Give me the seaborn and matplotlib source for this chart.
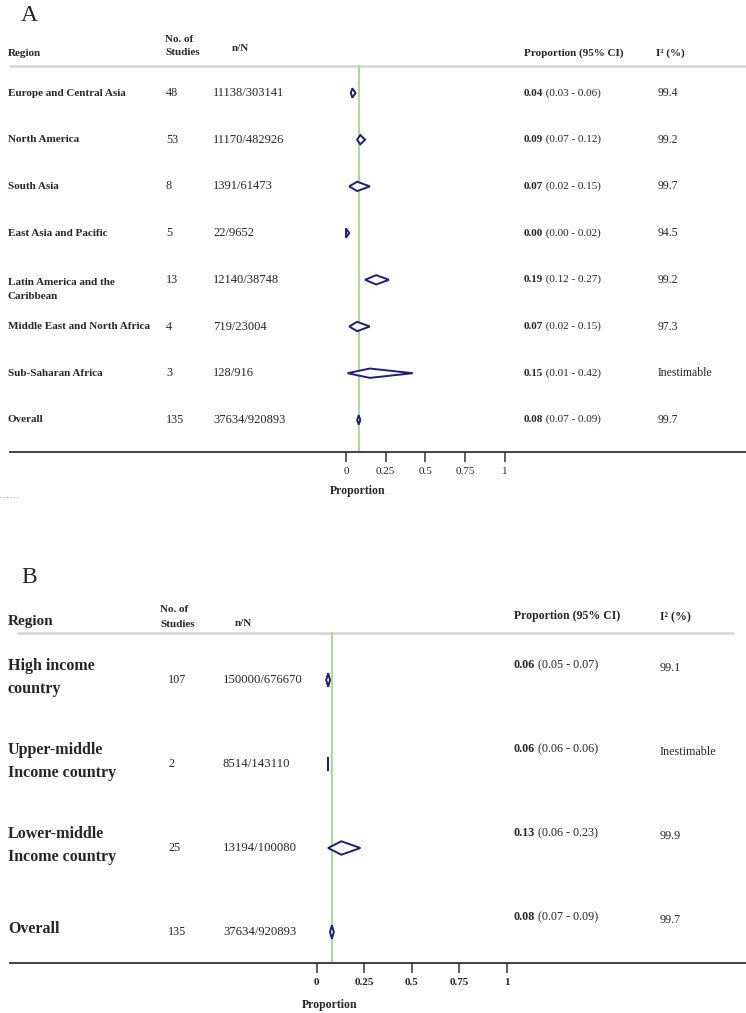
import matplotlib
matplotlib.use('Agg')
import matplotlib.pyplot as plt
import matplotlib.transforms as mtransforms
from matplotlib.patches import Polygon
from matplotlib.lines import Line2D
import pandas as pd
import seaborn as sns

# ================= 数据 =================
# Panel A: by World Bank region
regions_a = ['Europe and Central Asia', 'North America', 'South Asia',
             'East Asia and Pacific', 'Latin America and the\nCaribbean',
             'Middle East and North Africa', 'Sub-Saharan Africa', 'Overall']
studies_a = [48, 53, 8, 5, 13, 4, 3, 135]
nN_a = ['11138/303141', '11170/482926', '1391/61473', '22/9652',
        '12140/38748', '719/23004', '128/916', '37634/920893']
est_a = [0.04, 0.09, 0.07, 0.00, 0.19, 0.07, 0.15, 0.08]
lo_a = [0.03, 0.07, 0.02, 0.00, 0.12, 0.02, 0.01, 0.07]
hi_a = [0.06, 0.12, 0.15, 0.02, 0.27, 0.15, 0.42, 0.09]
i2_a = ['99.4', '99.2', '99.7', '94.5', '99.2', '97.3', 'Inestimable', '99.7']

# Panel B: by income group
groups_b = ['High income\ncountry', 'Upper-middle\nIncome country',
            'Lower-middle\nIncome country', 'Overall']
studies_b = [107, 2, 25, 135]
nN_b = ['150000/676670', '8514/143110', '13194/100080', '37634/920893']
est_b = [0.06, 0.06, 0.13, 0.08]
lo_b = [0.05, 0.06, 0.06, 0.07]
hi_b = [0.07, 0.06, 0.23, 0.09]
i2_b = ['99.1', 'Inestimable', '99.9', '99.7']

pooled = 0.08
tick_vals = [0, 0.25, 0.5, 0.75, 1]
tick_labels = ['0', '0.25', '0.5', '0.75', '1']

# ================= 样式 =================
sns.set_theme(style='white')
plt.rcParams['font.family'] = ['Liberation Serif', 'DejaVu Serif']

NAVY = '#1f1f7a'
GREEN = '#b3d69a'
GRID = '#d4d4d4'
AXIS = '#333333'

W, H = 746, 1013
fig = plt.figure(figsize=(W / 100, H / 100), dpi=100)


def make_panel(top, bottom, zero_px, unit_px, row0, step):
    """在像素坐标区域内建一个森林图轴"""
    ax = fig.add_axes([0, 1 - bottom / H, 1, (bottom - top) / H])
    ax.set_xlim(-zero_px / unit_px, (W - zero_px) / unit_px)
    ax.set_ylim((bottom - row0) / step, (top - row0) / step)
    sns.despine(ax=ax, left=True, top=True, right=True)
    ax.spines['bottom'].set_color(AXIS)
    ax.spines['bottom'].set_linewidth(1.3)
    ax.spines['bottom'].set_bounds((10 - zero_px) / unit_px, (W - zero_px) / unit_px)
    ax.set_yticks([])
    ax.set_xticks(tick_vals)
    ax.set_xticklabels(tick_labels)
    ax.tick_params(axis='x', direction='out', length=7, width=1.1,
                   color=AXIS, pad=4, bottom=True)
    ax.set_facecolor('none')
    ry = lambda p: (p - row0) / step
    trans = mtransforms.blended_transform_factory(ax.transAxes, ax.transData)
    return ax, ry, trans


def diamonds(ax, df, h):
    for i, r in df.reset_index(drop=True).iterrows():
        poly = Polygon([(r['lo'], i), (r['est'], i - h), (r['hi'], i), (r['est'], i + h)],
                       closed=True, facecolor='white', edgecolor=NAVY, lw=1.4, zorder=3)
        ax.add_patch(poly)


def prop_text(ax, trans, x, y, est, lo, hi, size):
    t = ax.text(x, y, f'{est:.2f}', transform=trans, fontsize=size,
                fontweight='bold', va='center', ha='left')
    ax.annotate(f' ({lo:.2f} - {hi:.2f})', xy=(1, 0), xycoords=t,
                va='bottom', ha='left', fontsize=size)


# ================= Panel A =================
df_a = pd.DataFrame({'label': regions_a, 'k': studies_a, 'nN': nN_a,
                     'est': est_a, 'lo': lo_a, 'hi': hi_a, 'i2': i2_a})
ax, ry, tr = make_panel(top=5, bottom=452, zero_px=346, unit_px=159,
                        row0=93, step=46.7)
fig.text(21 / W, 1 - 5 / H, 'A', fontsize=17, va='top', ha='left')

hs = 8
ax.text(8 / W, ry(53), 'Region', transform=tr, fontsize=hs, fontweight='bold', va='center')
ax.text(165 / W, ry(46), 'No. of\nStudies', transform=tr, fontsize=hs,
        fontweight='bold', va='center', linespacing=1.7)
ax.text(232 / W, ry(48), 'n/N', transform=tr, fontsize=hs, fontweight='bold', va='center')
ax.text(524 / W, ry(53), 'Proportion (95% CI)', transform=tr, fontsize=hs,
        fontweight='bold', va='center')
ax.text(656 / W, ry(53), 'I² (%)', transform=tr, fontsize=hs, fontweight='bold', va='center')
ax.plot([(10 - 346) / 159, (W - 346) / 159], [ry(66)] * 2, color=GRID, lw=1.8,
        clip_on=False, zorder=1)
ax.plot([pooled, pooled], [ry(66), ry(452)], color=GREEN, lw=1.5, zorder=2)

for i, r in df_a.iterrows():
    yl = i + (0.2 if '\n' in r['label'] else 0)
    ax.text(8 / W, yl, r['label'], transform=tr, fontsize=8, fontweight='bold',
            va='center', linespacing=1.75)
    ax.text(166 / W, i, str(r['k']), transform=tr, fontsize=8.7, va='center')
    ax.text(213 / W, i, r['nN'], transform=tr, fontsize=9, va='center')
    prop_text(ax, tr, 524 / W, i, r['est'], r['lo'], r['hi'], 8)
    ax.text(658 / W, i, r['i2'], transform=tr, fontsize=8.5, va='center')
diamonds(ax, df_a, 0.1)
for lab in ax.get_xticklabels():
    lab.set_fontsize(8)
ax.set_xlabel('Proportion', fontsize=8.5, fontweight='bold')
ax.xaxis.set_label_coords(358 / W, ry(485), transform=tr)

fig.add_artist(Line2D([0 / W, 20 / W], [1 - 497 / H] * 2, color='#bbbbbb',
                      lw=0.8, ls=(0, (1, 2))))

# ================= Panel B =================
df_b = pd.DataFrame({'label': groups_b, 'k': studies_b, 'nN': nN_b,
                     'est': est_b, 'lo': lo_b, 'hi': hi_b, 'i2': i2_b})
ax, ry, tr = make_panel(top=560, bottom=963, zero_px=316.7, unit_px=190,
                        row0=680, step=84)
fig.text(21 / W, 1 - 567 / H, 'B', fontsize=17, va='top', ha='left')

ax.text(8 / W, ry(622), 'Region', transform=tr, fontsize=11, fontweight='bold', va='center')
ax.text(160 / W, ry(617), 'No. of\nStudies', transform=tr, fontsize=8,
        fontweight='bold', va='center', linespacing=1.75)
ax.text(235 / W, ry(624), 'n/N', transform=tr, fontsize=8, fontweight='bold', va='center')
ax.text(514 / W, ry(616), 'Proportion (95% CI)', transform=tr, fontsize=8.5,
        fontweight='bold', va='center')
ax.text(660 / W, ry(617), 'I² (%)', transform=tr, fontsize=8.5, fontweight='bold', va='center')
ax.plot([(18 - 316.7) / 190, (733 - 316.7) / 190], [ry(633)] * 2, color=GRID, lw=1.8,
        clip_on=False, zorder=1)
ax.plot([pooled, pooled], [ry(633), ry(963)], color=GREEN, lw=1.5, zorder=2)

for i, r in df_b.iterrows():
    ax.text(8 / W, i - 0.03, r['label'], transform=tr, fontsize=11.5, fontweight='bold',
            va='center', linespacing=1.6)
    ax.text(168 / W, i, str(r['k']), transform=tr, fontsize=8.7, va='center')
    ax.text(223 / W, i, r['nN'], transform=tr, fontsize=9.2, va='center')
    prop_text(ax, tr, 514 / W, i - 0.18, r['est'], r['lo'], r['hi'], 8.7)
    ax.text(660 / W, i - 0.14, r['i2'], transform=tr, fontsize=8.7, va='center')
diamonds(ax, df_b, 0.08)
for lab in ax.get_xticklabels():
    lab.set_fontsize(8)
    lab.set_fontweight('bold')
ax.set_xlabel('Proportion', fontsize=8.5, fontweight='bold')
ax.xaxis.set_label_coords(330 / W, ry(999), transform=tr)

fig.savefig('out.png', dpi=100)
